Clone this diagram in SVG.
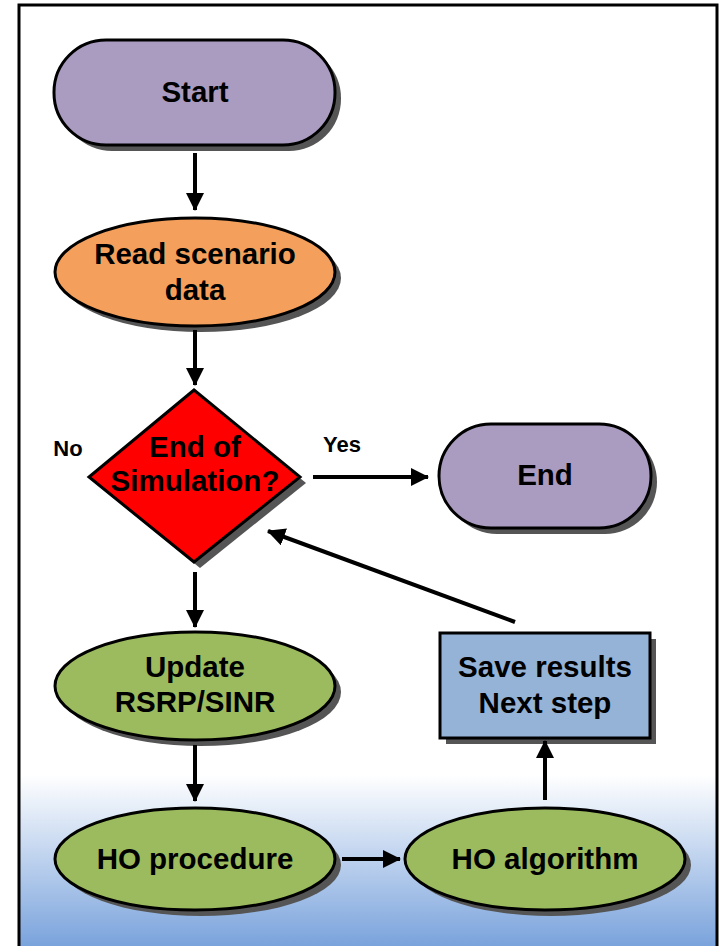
<svg xmlns="http://www.w3.org/2000/svg" width="720" height="946" viewBox="0 0 720 946">
<defs>
<linearGradient id="bg" x1="0" y1="0" x2="0" y2="1">
<stop offset="0" stop-color="#ffffff"/>
<stop offset="1" stop-color="#7aa3dc"/>
</linearGradient>
<marker id="ah" markerUnits="userSpaceOnUse" markerWidth="18" markerHeight="18" viewBox="0 0 18 18" refX="17" refY="9" orient="auto">
<path d="M0,0 L18,9 L0,18 z" fill="#000"/>
</marker>
</defs>
<style>
.sh{fill:#555555;stroke:none}
.n{stroke:#000;stroke-width:3}
.t{font-family:"Liberation Sans",Arial,sans-serif;font-weight:bold;font-size:29.5px;fill:#000;text-anchor:middle}
.lb{font-family:"Liberation Sans",Arial,sans-serif;font-weight:bold;font-size:22px;fill:#000;text-anchor:middle}
.c{stroke:#000;stroke-width:4;fill:none;marker-end:url(#ah)}
</style>
<rect x="0" y="0" width="720" height="946" fill="#fff"/>
<rect x="20" y="775" width="697" height="171" fill="url(#bg)"/>
<path d="M19,946 V5 H717 V946" fill="none" stroke="#000" stroke-width="3"/>

<g id="start">
<rect class="sh" x="60" y="46" width="281" height="105" rx="52"/>
<rect class="n" x="54" y="40" width="281" height="105" rx="52" fill="#aa9bc1"/>
<text class="t" x="195" y="102">Start</text>
</g>
<g id="read">
<ellipse class="sh" cx="201" cy="278" rx="140" ry="54"/>
<ellipse class="n" cx="195" cy="272" rx="140" ry="54" fill="#f4a05c"/>
<text class="t" x="195" y="264">Read scenario</text>
<text class="t" x="195" y="300">data</text>
</g>
<g id="decision">
<polygon class="sh" points="200,396 306,483 200,568 95,483"/>
<polygon class="n" points="194,390 300,477 194,562 89,477" fill="#ff0000"/>
<text class="t" x="195" y="457">End of</text>
<text class="t" x="195" y="491">Simulation?</text>
</g>
<g id="end">
<rect class="sh" x="445" y="430" width="212" height="104" rx="52"/>
<rect class="n" x="439" y="424" width="212" height="104" rx="52" fill="#aa9bc1"/>
<text class="t" x="545" y="485">End</text>
</g>
<g id="update">
<ellipse class="sh" cx="201" cy="692" rx="140" ry="54"/>
<ellipse class="n" cx="195" cy="686" rx="140" ry="54" fill="#9bbb5e"/>
<text class="t" x="195" y="677">Update</text>
<text class="t" x="195" y="712">RSRP/SINR</text>
</g>
<g id="save">
<rect class="sh" x="446" y="639" width="210" height="105"/>
<rect class="n" x="440" y="633" width="210" height="105" fill="#95b3d7"/>
<text class="t" x="545" y="677">Save results</text>
<text class="t" x="545" y="713">Next step</text>
</g>
<g id="hoproc">
<ellipse class="sh" cx="201" cy="865" rx="140" ry="51"/>
<ellipse class="n" cx="195" cy="859" rx="140" ry="51" fill="#9bbb5e"/>
<text class="t" x="195" y="869">HO procedure</text>
</g>
<g id="hoalg">
<ellipse class="sh" cx="551" cy="865" rx="140" ry="51"/>
<ellipse class="n" cx="545" cy="859" rx="140" ry="51" fill="#9bbb5e"/>
<text class="t" x="545" y="869">HO algorithm</text>
</g>

<g id="labels">
<text class="lb" x="68" y="456">No</text>
<text class="lb" x="342" y="452">Yes</text>
</g>

<g id="connectors">
<line class="c" x1="195" y1="153" x2="195" y2="210"/>
<line class="c" x1="195" y1="330" x2="195" y2="385"/>
<line class="c" x1="313" y1="477" x2="428" y2="477"/>
<line class="c" x1="195" y1="572" x2="195" y2="627"/>
<line class="c" x1="195" y1="745" x2="195" y2="801"/>
<line class="c" x1="342" y1="859" x2="400" y2="859"/>
<line class="c" x1="545" y1="800" x2="545" y2="741"/>
<line class="c" x1="515" y1="622" x2="268" y2="531"/>
</g>
</svg>
